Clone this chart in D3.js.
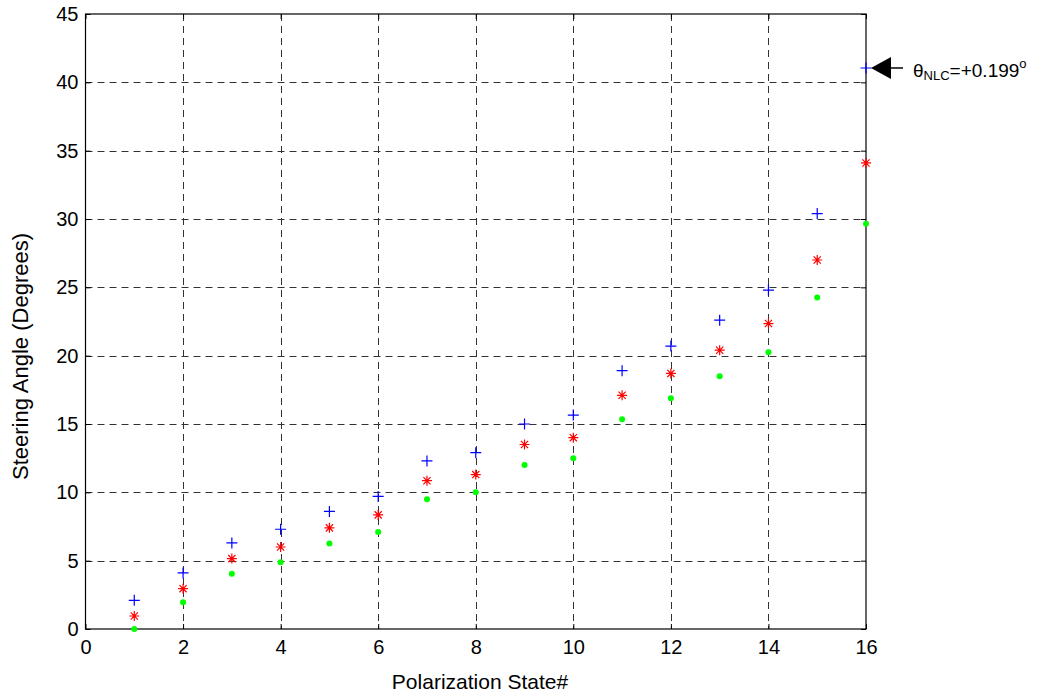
<!DOCTYPE html>
<html>
<head>
<meta charset="utf-8">
<script src="https://cdn.jsdelivr.net/npm/d3@7"></script>
<style>
  body { margin: 0; background: #fff; }
  svg { font-family: "Liberation Sans", Arial, sans-serif; }
</style>
</head>
<body>
<div id="chart"></div>
<script>
// data
const states = [1, 2, 3, 4, 5, 6, 7, 8, 9, 10, 11, 12, 13, 14, 15, 16];
const blueVals = [2.1, 4.1, 6.3, 7.3, 8.6, 9.7, 12.3, 12.9, 15.0, 15.65, 18.9, 20.7, 22.6, 24.8, 30.4, 41.05];
const redVals = [0.95, 2.95, 5.15, 6.0, 7.4, 8.35, 10.85, 11.3, 13.5, 14.0, 17.1, 18.7, 20.4, 22.35, 27.0, 34.1];
const greenVals = [0, 1.95, 4.05, 4.88, 6.25, 7.1, 9.5, 10.0, 12.0, 12.5, 15.34, 16.88, 18.5, 20.25, 24.25, 29.65];
const xTicks = [0, 2, 4, 6, 8, 10, 12, 14, 16];
const yTicks = [0, 5, 10, 15, 20, 25, 30, 35, 40, 45];

const width = 1040, height = 694;
const x = d3.scaleLinear().domain([0, 16]).range([85.5, 866]);
const y = d3.scaleLinear().domain([0, 45]).range([629, 14]);

const svg = d3.select("#chart").append("svg")
    .attr("width", width)
    .attr("height", height);

// grid
const grid = svg.append("g")
    .attr("stroke", "#333")
    .attr("stroke-width", 1)
    .attr("stroke-dasharray", "7,5");
grid.selectAll(".gx")
    .data(xTicks.slice(1, -1))
    .enter().append("line")
    .attr("x1", d => Math.round(x(d)) + 0.5).attr("x2", d => Math.round(x(d)) + 0.5)
    .attr("y1", y(45)).attr("y2", y(0));
grid.selectAll(".gy")
    .data(yTicks.slice(1, -1))
    .enter().append("line")
    .attr("y1", d => Math.round(y(d)) + 0.5).attr("y2", d => Math.round(y(d)) + 0.5)
    .attr("x1", x(0)).attr("x2", x(16));

// axes (ticks inward, on all four sides)
const tickLen = 5;
svg.append("g")
    .attr("transform", `translate(0,${y(0)})`)
    .call(d3.axisBottom(x).tickValues(xTicks).tickSize(-tickLen).tickPadding(11))
    .call(g => g.select(".domain").remove());
svg.append("g")
    .attr("transform", `translate(0,${y(45)})`)
    .call(d3.axisTop(x).tickValues(xTicks).tickSize(-tickLen).tickFormat(""))
    .call(g => g.select(".domain").remove());
svg.append("g")
    .attr("transform", `translate(${x(0)},0)`)
    .call(d3.axisLeft(y).tickValues(yTicks).tickSize(-tickLen).tickPadding(7))
    .call(g => g.select(".domain").remove());
svg.append("g")
    .attr("transform", `translate(${x(16)},0)`)
    .call(d3.axisRight(y).tickValues(yTicks).tickSize(-tickLen).tickFormat(""))
    .call(g => g.select(".domain").remove());

svg.selectAll(".tick text")
    .attr("font-size", 20)
    .attr("font-family", "Liberation Sans, Arial, sans-serif")
    .attr("fill", "#000");
svg.selectAll(".tick line").attr("stroke", "#000");

// box
svg.append("rect")
    .attr("x", x(0)).attr("y", y(45))
    .attr("width", x(16) - x(0)).attr("height", y(0) - y(45))
    .attr("fill", "none").attr("stroke", "#000").attr("stroke-width", 1.2);

// markers
const s = 5.5;
const plusPath = `M${-s},0H${s}M0,${-s}V${s}`;
const a = 5, d2 = a * 0.72;
const starPath = `M${-a},0H${a}M0,${-a}V${a}M${-d2},${-d2}L${d2},${d2}M${-d2},${d2}L${d2},${-d2}`;

svg.append("g").selectAll("path")
    .data(states)
    .enter().append("path")
    .attr("transform", (d, i) => `translate(${x(d)},${y(blueVals[i])})`)
    .attr("d", plusPath)
    .attr("stroke", "#0000ff").attr("stroke-width", 1.2).attr("fill", "none");

svg.append("g").selectAll("path")
    .data(states)
    .enter().append("path")
    .attr("transform", (d, i) => `translate(${x(d)},${y(redVals[i])})`)
    .attr("d", starPath)
    .attr("stroke", "#ff0000").attr("stroke-width", 1.2).attr("fill", "none");

svg.append("g").selectAll("circle")
    .data(states)
    .enter().append("circle")
    .attr("cx", d => x(d))
    .attr("cy", (d, i) => y(greenVals[i]))
    .attr("r", 3)
    .attr("fill", "#00ff00");

// axis labels
svg.append("text")
    .attr("x", 480).attr("y", 689)
    .attr("text-anchor", "middle")
    .attr("font-size", 21)
    .text("Polarization State#");
svg.append("text")
    .attr("transform", "translate(28,480) rotate(-90)")
    .attr("text-anchor", "start")
    .attr("font-size", 22)
    .text("Steering Angle (Degrees)");

// annotation arrow
const ay = y(blueVals[15]);
const ax = x(16) + 5;
svg.append("line")
    .attr("x1", ax + 18).attr("x2", ax + 32)
    .attr("y1", ay).attr("y2", ay)
    .attr("stroke", "#000").attr("stroke-width", 1.5);
svg.append("path")
    .attr("d", `M${ax},${ay}L${ax + 20},${ay - 11}L${ax + 20},${ay + 11}Z`)
    .attr("fill", "#000");

const note = svg.append("text")
    .attr("x", ax + 42).attr("y", ay + 9)
    .attr("font-size", 19);
note.append("tspan").text("θ");
note.append("tspan").attr("font-size", 13).attr("dy", 3).text("NLC");
note.append("tspan").attr("dy", -3).text("=+0.199");
note.append("tspan").attr("font-size", 13).attr("dy", -9).text("o");
</script>
</body>
</html>
